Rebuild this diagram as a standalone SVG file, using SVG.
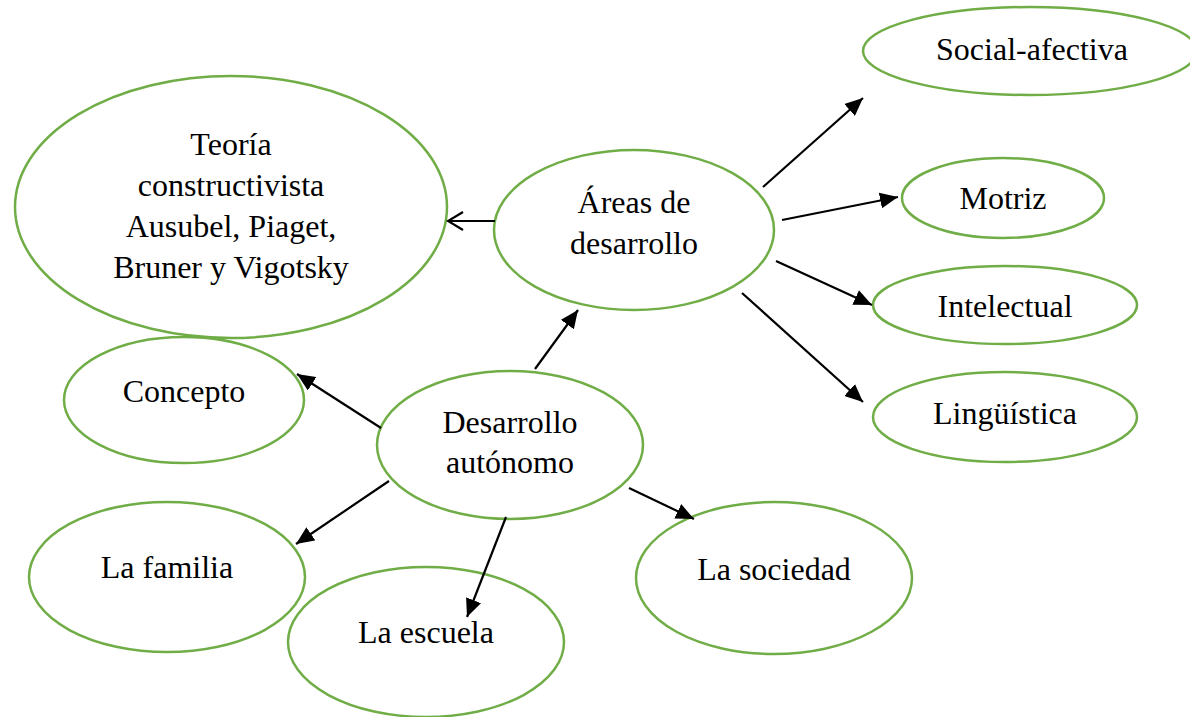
<svg xmlns="http://www.w3.org/2000/svg" width="1190" height="717" viewBox="0 0 1190 717">
<style>
.n{fill:#fff;stroke:#70AD47;stroke-width:2.5}
.t{font-family:"Liberation Serif","Times New Roman",serif;font-size:32px;fill:#000;text-anchor:middle}
.c{stroke:#000;stroke-width:2.2;fill:none}
</style>
<defs>
<marker id="ah" markerUnits="userSpaceOnUse" markerWidth="20" markerHeight="16" refX="18" refY="8" orient="auto">
<path d="M0,0 L18,8 L0,16 Z" fill="#000"/>
</marker>
<marker id="oh" markerUnits="userSpaceOnUse" markerWidth="18" markerHeight="20" refX="16" refY="10" orient="auto">
<path d="M1,1 L16,10 L1,19" fill="none" stroke="#000" stroke-width="2.2"/>
</marker>
</defs>
<rect width="1190" height="717" fill="#fff"/>
<g id="teoria"><ellipse class="n" cx="231" cy="207" rx="216" ry="131"/>
<text class="t" x="231" y="155">Teoría</text><text class="t" x="231" y="196">constructivista</text><text class="t" x="231" y="237">Ausubel, Piaget,</text><text class="t" x="231" y="278">Bruner y Vigotsky</text></g>
<g id="concepto"><ellipse class="n" cx="184" cy="400" rx="120" ry="63"/><text class="t" x="184" y="402">Concepto</text></g>
<g id="areas"><ellipse class="n" cx="634" cy="230" rx="140" ry="80"/><text class="t" x="634" y="213">Áreas de</text><text class="t" x="634" y="254">desarrollo</text></g>
<g id="social"><ellipse class="n" cx="1030" cy="51" rx="167" ry="44"/><text class="t" x="1032" y="60">Social-afectiva</text></g>
<g id="motriz"><ellipse class="n" cx="1003" cy="198" rx="101" ry="40"/><text class="t" x="1003" y="209">Motriz</text></g>
<g id="intelectual"><ellipse class="n" cx="1005" cy="305" rx="132" ry="39"/><text class="t" x="1005" y="317">Intelectual</text></g>
<g id="linguistica"><ellipse class="n" cx="1005" cy="417" rx="132" ry="45"/><text class="t" x="1005" y="424">Lingüística</text></g>
<g id="desarrollo"><ellipse class="n" cx="510" cy="445" rx="133" ry="74"/><text class="t" x="510" y="433">Desarrollo</text><text class="t" x="510" y="473">autónomo</text></g>
<g id="familia"><ellipse class="n" cx="167" cy="577" rx="138" ry="75"/><text class="t" x="167" y="578">La familia</text></g>
<g id="escuela"><ellipse class="n" cx="426" cy="642" rx="138" ry="75"/><text class="t" x="426" y="643">La escuela</text></g>
<g id="sociedad"><ellipse class="n" cx="774" cy="578" rx="138" ry="76"/><text class="t" x="774" y="580">La sociedad</text></g>
<g id="connectors">
<line class="c" x1="495" y1="221" x2="448" y2="221" marker-end="url(#oh)"/>
<line class="c" x1="763" y1="187" x2="863" y2="98" marker-end="url(#ah)"/>
<line class="c" x1="782" y1="220" x2="898" y2="197" marker-end="url(#ah)"/>
<line class="c" x1="776" y1="261" x2="872" y2="305" marker-end="url(#ah)"/>
<line class="c" x1="742" y1="293" x2="863" y2="402" marker-end="url(#ah)"/>
<line class="c" x1="535" y1="369" x2="578" y2="310" marker-end="url(#ah)"/>
<line class="c" x1="381" y1="428" x2="297" y2="374" marker-end="url(#ah)"/>
<line class="c" x1="389" y1="481" x2="296" y2="544" marker-end="url(#ah)"/>
<line class="c" x1="506" y1="517" x2="467" y2="617" marker-end="url(#ah)"/>
<line class="c" x1="629" y1="488" x2="694" y2="519" marker-end="url(#ah)"/>
</g>
</svg>
